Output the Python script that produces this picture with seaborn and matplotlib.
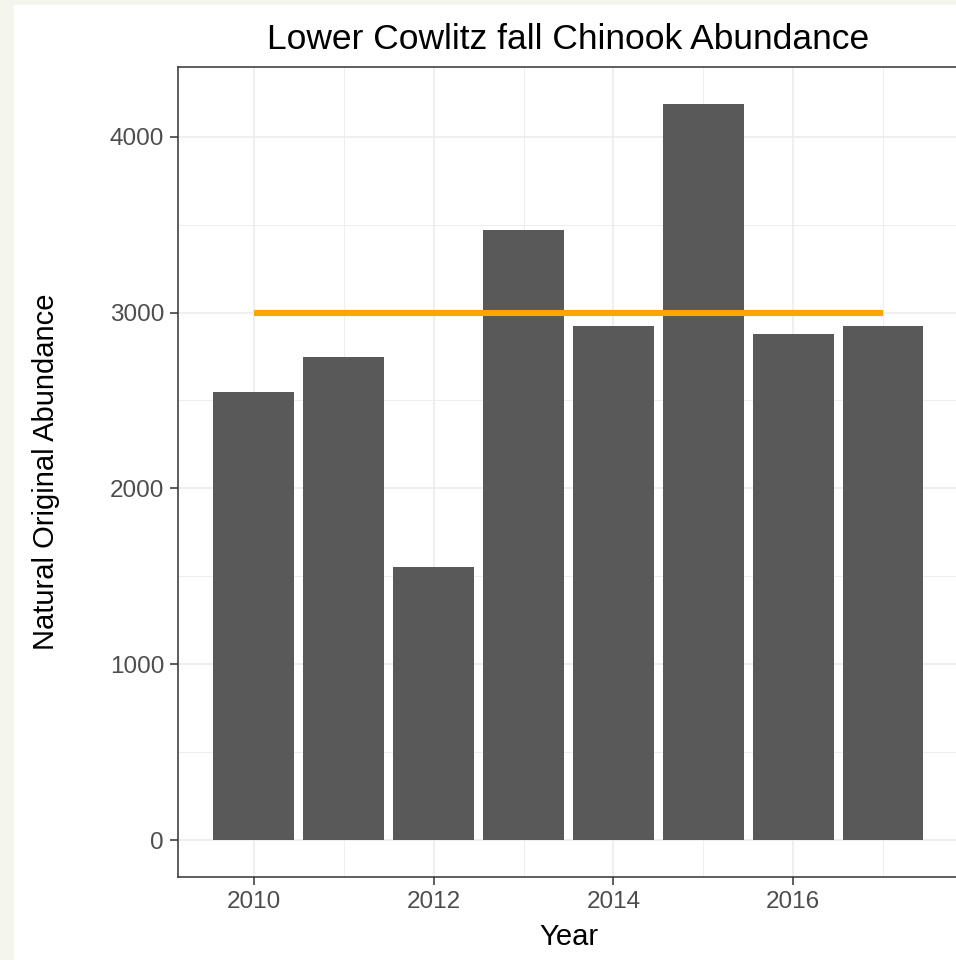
import pandas as pd
import seaborn as sns
from matplotlib import pyplot as plt
from matplotlib.patches import Rectangle
from matplotlib.ticker import MultipleLocator

years = [2010, 2011, 2012, 2013, 2014, 2015, 2016, 2017]
abundance = [2547, 2746, 1555, 3472, 2922, 4187, 2877, 2922]
target = [3000] * len(years)

df = pd.DataFrame({"Year": years, "Abundance": abundance, "Target": target})

sns.set_theme(style="white")
plt.rcParams["font.family"] = ["Liberation Sans", "DejaVu Sans"]

fig = plt.figure(figsize=(9.56, 9.6), dpi=100)
fig.patch.set_facecolor("#f4f6ee")
# white page area (reference has a pale strip on the left / top)
fig.add_artist(Rectangle((14 / 956, 0), 1, 1 - 5 / 960,
                         transform=fig.transFigure, color="white", zorder=-10))

ax = fig.add_axes([178 / 956, 83 / 960, 781 / 956, 810 / 960])
ax.set_zorder(1)

sns.barplot(data=df, x="Year", y="Abundance", native_scale=True, width=0.9,
            color="#595959", saturation=1, edgecolor="none", linewidth=0,
            ax=ax, zorder=2)
sns.lineplot(data=df, x="Year", y="Target", color="#FFA500", lw=4.4,
             solid_capstyle="butt", ax=ax, zorder=3)

ax.set_xlim(2009.155, 2017.845)
ax.set_ylim(-209, 4396)
ax.xaxis.set_major_locator(MultipleLocator(2))
ax.xaxis.set_minor_locator(MultipleLocator(1))
ax.yaxis.set_major_locator(MultipleLocator(1000))
ax.yaxis.set_minor_locator(MultipleLocator(500))

ax.grid(which="major", color="#ebebeb", lw=1.1, zorder=0)
ax.grid(which="minor", color="#ebebeb", lw=0.6, zorder=0)
ax.set_axisbelow(True)

for s in ax.spines.values():
    s.set_color("#333333")
    s.set_linewidth(1.1)

ax.tick_params(which="major", length=5.5, width=1.1, color="#333333",
               labelsize=17.5, labelcolor="#4d4d4d", pad=4.5,
               bottom=True, left=True)
ax.tick_params(which="minor", length=0)

ax.set_xlabel("Year", fontsize=21, color="black", labelpad=7)
ax.set_ylabel("Natural Original Abundance", fontsize=21, color="black", labelpad=36)
ax.set_title("Lower Cowlitz fall Chinook Abundance", fontsize=25.5, color="black", pad=13)

fig.savefig("out.png", dpi=100, facecolor=fig.get_facecolor())
